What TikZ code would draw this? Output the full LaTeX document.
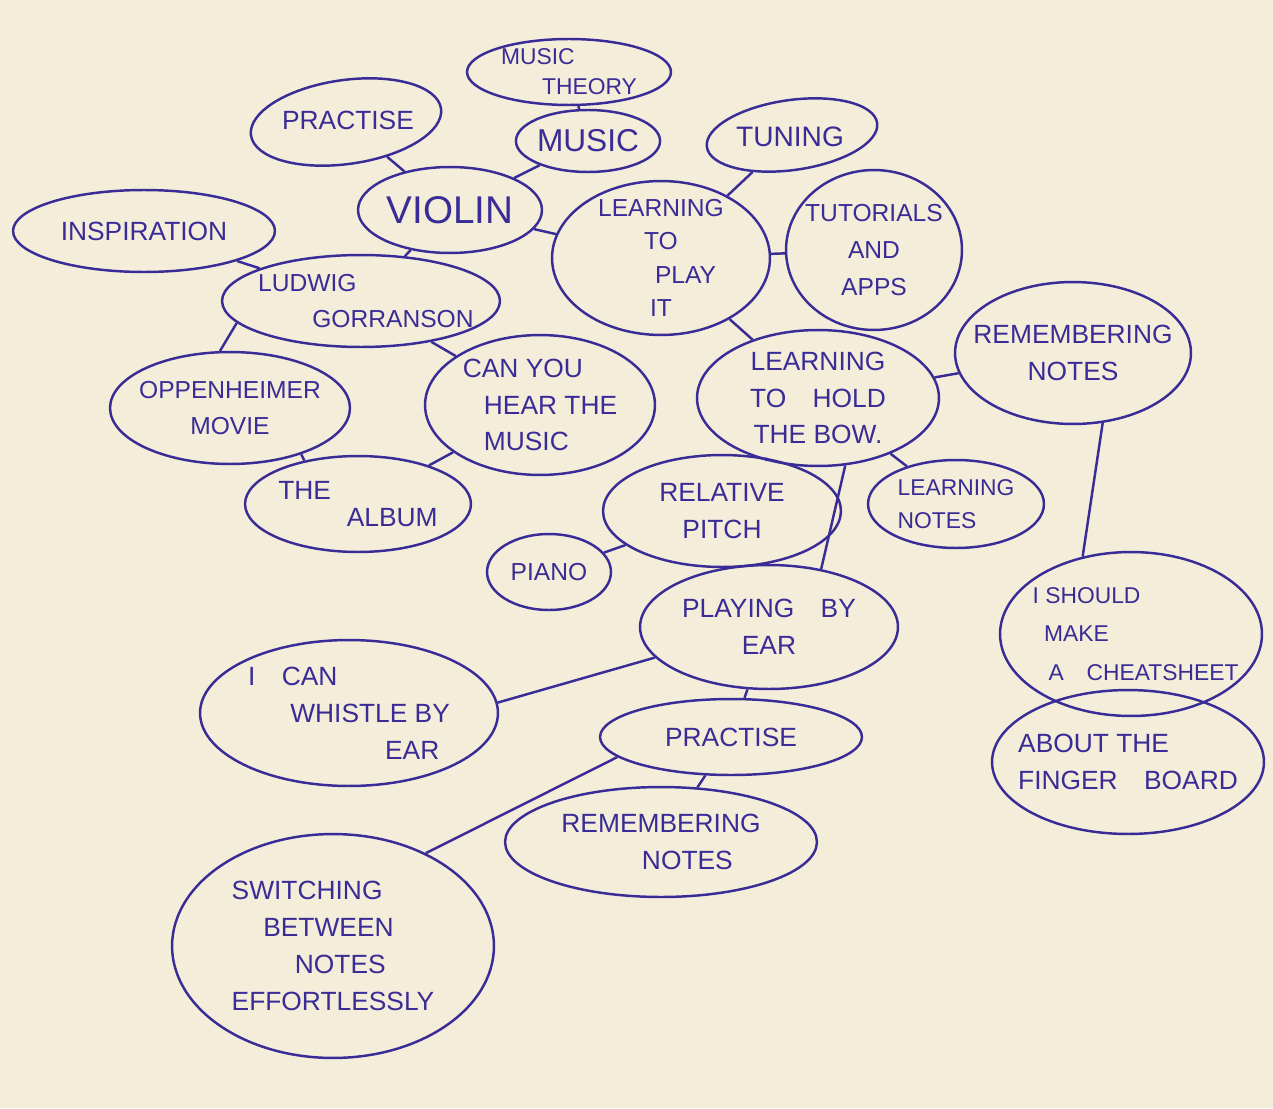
\documentclass[tikz,border=0pt]{standalone}
\usepackage{fontspec}
\setmainfont{Liberation Sans}
\usetikzlibrary{shapes.geometric}
\definecolor{ink}{RGB}{58,44,150}
\definecolor{paper}{RGB}{243,237,217}
\begin{document}
\begin{tikzpicture}[x=0.02cm,y=-0.02cm,
  bub/.style 2 args={ellipse, draw=ink, line width=1.4pt, text=ink, inner sep=0pt,
    minimum width=#1*0.04cm, minimum height=#2*0.04cm, align=center,
    font=\fontsize{15}{21}\selectfont},
  txt/.style={text=ink, inner sep=0pt, align=center, font=\fontsize{15}{21}\selectfont},
  txtl/.style={txt, align=left},
  link/.style={draw=ink, line width=1.4pt}]
\path[use as bounding box, fill=paper] (0,0) rectangle (1273,1108);

\node[bub={102}{33}, label={[txtl, font=\fontsize{13}{17}\selectfont]center:MUSIC\\\hspace{1.8em}THEORY}] (mtheory) at (569,72) {};
\node[bub={96}{42}, rotate=8] (prac1) at (346,122) {};
\node[txt] (prac1t) at (348,120) {PRACTISE};
\node[bub={67}{31}, font=\fontsize{18}{22}\selectfont] (music) at (588,141) {MUSIC};
\node[bub={86}{35}, rotate=8] (tuning) at (792,135) {};
\node[txt, font=\fontsize{16}{20}\selectfont] (tuningt) at (790,137) {TUNING};
\node[bub={92}{43}, font=\fontsize{22}{26}\selectfont] (violin) at (450,210) {VIOLIN};
\node[bub={131}{41}, label={[txt]center:INSPIRATION}] (insp) at (144,231) {};
\node[bub={109}{77}, label={[txt, font=\fontsize{14}{19}\selectfont]center:LEARNING\\TO\hspace{2.2em}\\\hspace{2em}PLAY\\IT}] (play) at (661,258) {};
\node[bub={88}{80}, label={[txt, font=\fontsize{14}{21}\selectfont]center:TUTORIALS\\AND\\APPS}] (tut) at (874,250) {};
\node[bub={139}{46}, label={[txtl, font=\fontsize{14}{21}\selectfont]center:\hspace{0.4em}LUDWIG\\\hspace{2.6em}GORRANSON}] (ludwig) at (361,301) {};
\node[bub={120}{56}, label={[txt, font=\fontsize{14}{21}\selectfont]center:OPPENHEIMER\\MOVIE}] (opp) at (230,408) {};
\node[bub={115}{70}, label={[txtl]center:CAN YOU\\\hspace{0.8em}HEAR THE\\\hspace{0.8em}MUSIC}] (hear) at (540,405) {};
\node[bub={121}{68}, label={[txt]center:LEARNING\\TO\quad HOLD\\THE BOW.}] (bow) at (818,398) {};
\node[bub={118}{71}, label={[txt]center:REMEMBERING\\NOTES}] (rem1) at (1073,353) {};
\node[bub={113}{48}, label={[txtl]center:THE\\[-6pt]\hspace{2.6em}ALBUM}] (album) at (358,504) {};
\node[bub={119}{56}, label={[txt]center:RELATIVE\\PITCH}] (rel) at (722,511) {};
\node[bub={88}{44}, label={[txtl, font=\fontsize{13}{19}\selectfont]center:LEARNING\\NOTES}] (lnotes) at (956,504) {};
\node[bub={62}{38}, font=\fontsize{14}{18}\selectfont] (piano) at (549,572) {PIANO};
\node[bub={129}{62}, label={[txt]center:PLAYING\quad BY\\EAR}] (ear) at (769,627) {};
\node[bub={131}{82}, label={[txtl, font=\fontsize{13}{22}\selectfont]center:\hspace{0.4em}I SHOULD\\\hspace{0.9em}MAKE\\\hspace{1.1em}A\quad CHEATSHEET}] (cheat) at (1131,634) {};
\node[bub={149}{73}, label={[txtl]center:I\quad CAN\\\hspace{1.6em}WHISTLE BY\\\hspace{5.2em}EAR}] (whistle) at (349,713) {};
\node[bub={131}{38}] (prac2) at (731,737) {PRACTISE};
\node[bub={136}{72}, label={[txtl]center:ABOUT THE\\FINGER\quad BOARD}] (finger) at (1128,762) {};
\node[bub={156}{55}, label={[txt]center:REMEMBERING\\\hspace{2em}NOTES}] (rem2) at (661,842) {};
\node[bub={161}{112}, label={[txtl]center:SWITCHING\\\hspace{1.2em}BETWEEN\\\hspace{2.4em}NOTES\\EFFORTLESSLY}] (switch) at (333,946) {};

\draw[link] (mtheory) -- (music);
\draw[link] (music) -- (violin);
\draw[link] (prac1) -- (violin);
\draw[link] (violin) -- (play);
\draw[link] (violin) -- (ludwig);
\draw[link] (insp) -- (ludwig);
\draw[link] (tuning) -- (play);
\draw[link] (play) -- (tut);
\draw[link] (play) -- (bow);
\draw[link] (ludwig.190) -- (opp.100);
\draw[link] (ludwig) -- (hear);
\draw[link] (opp.-33) -- (album.141);
\draw[link] (hear) -- (album);
\draw[link] (bow) -- (rem1);
\draw[link] (bow) -- (rel);
\draw[link] (bow) -- (lnotes);
\draw[link] (bow.-68) -- (ear.48);
\draw[link] (rel) -- (piano);
\draw[link] (rem1.-67) -- (cheat.122);
\draw[link] (ear.195) -- (whistle.4);
\draw[link] (ear) -- (prac2);
\draw[link] (prac2) -- (rem2);
\draw[link] (prac2.190) -- (switch.45);
\end{tikzpicture}
\end{document}
